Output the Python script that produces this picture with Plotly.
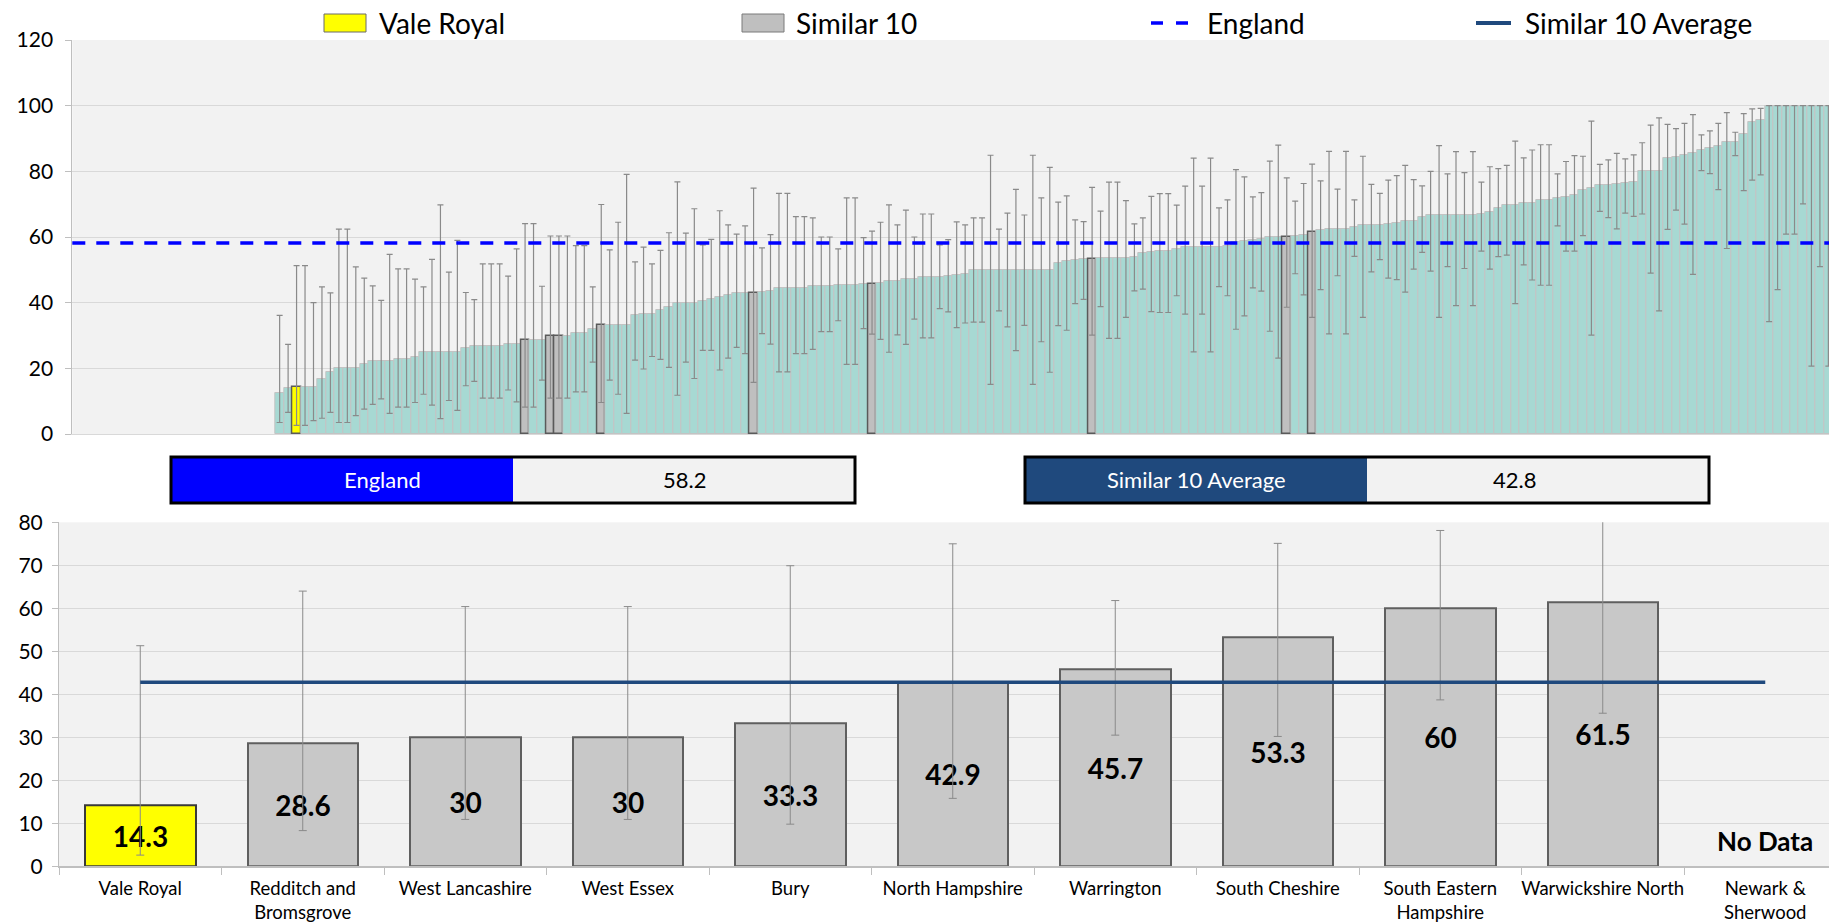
import plotly.graph_objects as go

W, H = 1829, 924

# ---------------- data: top chart (all areas, ranked ascending) ----------------
N_NO_DATA = 24  # areas without a value: empty slots on the left
TOP_VALUES = [
    12.5, 14.0, 14.3, 14.3, 14.3, 16.7, 18.8, 20.0, 20.0, 20.0,
    21.4, 22.2, 22.2, 22.2, 22.9, 22.9, 23.5, 25.0, 25.0, 25.0,
    25.0, 25.0, 26.3, 26.7, 26.7, 26.7, 26.7, 27.3, 27.3, 28.6,
    28.6, 28.6, 30.0, 30.0, 30.0, 30.8, 30.8, 32.1, 33.3, 33.3,
    33.3, 33.3, 36.2, 36.4, 36.6, 37.9, 38.8, 40.0, 40.0, 40.0,
    40.6, 41.2, 41.6, 42.2, 42.9, 42.9, 42.9, 43.2, 43.5, 44.4,
    44.4, 44.4, 44.4, 45.0, 45.2, 45.2, 45.3, 45.5, 45.5, 45.7,
    45.7, 46.1, 46.7, 46.7, 47.3, 47.3, 47.9, 47.9, 47.9, 48.1,
    48.5, 48.7, 50.0, 50.0, 50.0, 50.0, 50.0, 50.0, 50.0, 50.0,
    50.0, 50.0, 52.2, 52.7, 52.9, 53.2, 53.3, 53.5, 53.6, 53.6,
    53.6, 54.0, 55.2, 55.5, 55.8, 55.8, 56.3, 56.9, 56.9, 56.9,
    56.9, 57.1, 57.3, 58.4, 58.7, 59.2, 59.5, 60.0, 60.0, 60.0,
    60.3, 60.7, 61.5, 62.0, 62.5, 62.5, 62.5, 63.1, 63.6, 63.7,
    63.7, 63.9, 64.4, 64.9, 64.9, 66.1, 66.6, 66.7, 66.7, 66.7,
    66.7, 66.7, 67.1, 67.7, 68.9, 69.9, 69.9, 70.4, 70.5, 71.3,
    71.3, 71.9, 72.3, 72.7, 74.4, 75.0, 75.7, 75.9, 76.1, 76.5,
    76.9, 80.0, 80.0, 80.0, 84.2, 84.3, 85.0, 85.6, 86.6, 87.1,
    87.7, 88.9, 88.9, 91.5, 95.1, 95.6, 100, 100, 100, 100,
    100, 100, 100, 100,
]
TOP_UPPER = [
    36.1, 27.3, 51.3, 51.3, 40.0, 44.8, 43.0, 62.4, 62.4, 50.9,
    47.5, 45.1, 40.7, 54.7, 50.3, 50.3, 47.2, 44.8, 53.2, 69.8,
    49.3, 59.0, 43.1, 40.9, 51.8, 51.8, 51.8, 48.1, 56.4, 64.1,
    64.1, 45.0, 60.3, 60.3, 60.3, 57.4, 57.4, 44.8, 69.9, 56.1,
    64.5, 79.1, 52.4, 56.9, 51.8, 55.9, 61.3, 76.8, 61.2, 68.6,
    57.6, 59.3, 68.0, 63.7, 60.9, 63.4, 74.9, 56.7, 60.7, 73.3,
    73.3, 66.2, 66.2, 65.8, 60.0, 60.0, 56.4, 71.9, 71.9, 59.8,
    61.8, 64.5, 69.8, 63.7, 68.2, 60.0, 67.0, 67.0, 57.6, 59.2,
    64.6, 63.7, 65.8, 65.8, 84.9, 62.4, 67.3, 74.5, 66.7, 84.9,
    71.9, 81.2, 70.6, 72.5, 65.2, 64.7, 75.1, 67.9, 76.7, 76.7,
    71.1, 64.0, 65.8, 72.4, 73.2, 73.2, 69.7, 75.5, 84.0, 75.5,
    84.0, 68.9, 71.3, 80.5, 78.3, 72.2, 73.5, 83.1, 88.0, 78.0,
    70.9, 76.3, 82.2, 77.1, 86.1, 74.6, 86.1, 71.3, 84.6, 76.0,
    73.3, 77.3, 78.7, 81.8, 77.5, 75.6, 80.0, 87.8, 79.2, 86.0,
    79.6, 86.0, 76.7, 81.4, 80.8, 81.8, 89.2, 84.1, 86.5, 88.1,
    88.1, 79.2, 83.0, 84.8, 84.6, 95.3, 82.1, 83.5, 85.5, 83.8,
    85.0, 88.7, 94.1, 96.3, 94.3, 93.0, 94.6, 97.3, 91.1, 92.3,
    94.6, 97.9, 91.9, 97.6, 99.0, 99.2, 100, 100, 100, 100,
    100, 100, 100, 100,
]
TOP_LOWER = [
    3.5, 6.6, 2.6, 2.6, 4.1, 4.8, 6.6, 3.5, 3.5, 5.6,
    7.6, 9.0, 10.7, 6.3, 8.2, 8.2, 9.6, 12.1, 8.8, 4.7,
    10.2, 7.2, 14.7, 16.0, 10.9, 10.9, 10.9, 13.4, 9.8, 8.2,
    8.2, 16.4, 10.9, 10.9, 10.9, 12.8, 12.8, 21.9, 9.6, 16.4,
    12.1, 6.3, 22.5, 19.8, 23.6, 22.7, 20.3, 11.8, 21.9, 16.9,
    25.5, 25.5, 19.5, 23.1, 26.4, 24.5, 15.7, 30.6, 27.4, 18.9,
    18.9, 24.5, 24.5, 25.8, 31.2, 31.2, 34.5, 21.2, 21.2, 32.1,
    30.4, 28.8, 24.9, 30.2, 27.3, 35.0, 29.3, 29.3, 38.2, 37.2,
    32.4, 33.8, 34.1, 34.1, 15.1, 37.5, 32.6, 25.4, 33.1, 15.1,
    28.1, 18.8, 33.0, 31.6, 39.7, 41.0, 30.1, 38.8, 29.1, 29.1,
    35.5, 43.6, 44.1, 37.3, 37.0, 37.0, 42.1, 36.5, 25.0, 36.5,
    25.0, 44.9, 42.1, 31.9, 36.0, 44.5, 43.5, 31.3, 23.1, 38.6,
    48.8, 42.4, 35.5, 44.0, 30.5, 48.2, 30.5, 54.1, 35.5, 49.4,
    53.1, 47.5, 47.0, 43.2, 50.2, 55.3, 49.6, 35.5, 51.0, 39.1,
    50.4, 39.1, 55.7, 50.2, 54.0, 54.5, 39.7, 51.5, 46.9, 45.3,
    45.3, 63.4, 55.7, 55.7, 60.4, 30.1, 67.8, 65.9, 62.5, 67.3,
    66.3, 67.0, 49.0, 37.5, 62.3, 68.2, 63.9, 48.6, 80.2, 79.3,
    74.4, 56.5, 84.8, 74.1, 77.3, 78.9, 34.2, 44.0, 60.9, 60.9,
    70.1, 20.7, 51.0, 20.7,
]
VALE_RANK = 2
SIMILAR_RANKS = [29, 32, 33, 38, 56, 70, 96, 119, 122]
ENGLAND_VALUE = 58.2

# ---------------- data: bottom chart (Vale Royal and similar 10) ----------------
AREAS = ["Vale Royal", "Redditch and Bromsgrove", "West Lancashire", "West Essex",
         "Bury", "North Hampshire", "Warrington", "South Cheshire",
         "South Eastern Hampshire", "Warwickshire North", "Newark & Sherwood"]
AREA_TICKTEXT = ["Vale Royal", "Redditch and<br>Bromsgrove", "West Lancashire", "West Essex",
                 "Bury", "North Hampshire", "Warrington", "South Cheshire",
                 "South Eastern<br>Hampshire", "Warwickshire North", "Newark &<br>Sherwood"]
AREA_VALUES = [14.3, 28.6, 30, 30, 33.3, 42.9, 45.7, 53.3, 60, 61.5, None]
AREA_UPPER = [51.3, 64.0, 60.4, 60.4, 69.9, 75.0, 61.8, 75.1, 78.1, 82.2, None]
AREA_LOWER = [2.6, 8.3, 10.9, 10.9, 9.8, 15.8, 30.5, 30.2, 38.7, 35.6, None]
SIMILAR_AVG = 42.8

FONT = "Lato"
TEAL = "#a7d9d3"
GREY_BAR = "#bfbfbf"
YELLOW = "#ffff00"
BLUE = "#0000ff"
NAVY = "#1f497d"
PLOT_BG = "#f2f2f2"
GRID = "#d9d9d9"


def px(x):
    return x / W


def py(y):
    return 1 - y / H


fig = go.Figure()

# ---------- top chart ----------
n_top = len(TOP_VALUES)
top_x = [N_NO_DATA + i for i in range(n_top)]
fills, lines, lwidths = [], [], []
for i in range(n_top):
    if i == VALE_RANK:
        fills.append(YELLOW); lines.append("#5a5a5a"); lwidths.append(1.5)
    elif i in SIMILAR_RANKS:
        fills.append(GREY_BAR); lines.append("#5a5a5a"); lwidths.append(1.5)
    else:
        fills.append(TEAL); lines.append("#c3c3c3"); lwidths.append(1)

fig.add_trace(go.Bar(
    x=top_x, y=TOP_VALUES, xaxis="x", yaxis="y", showlegend=False,
    marker=dict(color=fills, line=dict(color=lines, width=lwidths)),
    error_y=dict(type="data", symmetric=False,
                 array=[u - v for u, v in zip(TOP_UPPER, TOP_VALUES)],
                 arrayminus=[v - l for v, l in zip(TOP_VALUES, TOP_LOWER)],
                 color="#8a8a8a", thickness=1.2, width=3),
))

# ---------- bottom chart ----------
bcolors = [YELLOW if a == "Vale Royal" else "#c8c8c8" for a in AREAS]
blines = ["#3a3a3a" if a == "Vale Royal" else "#5f5f5f" for a in AREAS]
fig.add_trace(go.Bar(
    x=AREAS, y=AREA_VALUES, xaxis="x2", yaxis="y2", showlegend=False, width=0.68,
    marker=dict(color=bcolors, line=dict(color=blines, width=2)),
    texttemplate="<b>%{y}</b>", textposition="inside", insidetextanchor="middle",
    textangle=0, constraintext="none",
    textfont=dict(family=FONT, size=28, color="black"),
    error_y=dict(type="data", symmetric=False,
                 array=[(u - v) if v is not None else None for u, v in zip(AREA_UPPER, AREA_VALUES)],
                 arrayminus=[(v - l) if v is not None else None for v, l in zip(AREA_VALUES, AREA_LOWER)],
                 color="#8a8a8a", thickness=1, width=4),
))
fig.add_trace(go.Scatter(
    x=[AREAS[0], AREAS[-1]], y=[SIMILAR_AVG, SIMILAR_AVG], xaxis="x2", yaxis="y2",
    mode="lines", line=dict(color=NAVY, width=3.5), showlegend=False, hoverinfo="skip",
))

shapes = [
    # England reference line on the top chart
    dict(type="line", xref="x domain", x0=0, x1=1, yref="y", y0=ENGLAND_VALUE, y1=ENGLAND_VALUE,
         line=dict(color=BLUE, width=3.5, dash="13px,11px"), layer="above"),
]

# ---------- legend (drawn) ----------
LEG_Y = 23
shapes += [
    dict(type="rect", xref="paper", yref="paper", x0=px(324), x1=px(366), y0=py(32), y1=py(14),
         fillcolor=YELLOW, line=dict(color="#6a6a6a", width=1)),
    dict(type="rect", xref="paper", yref="paper", x0=px(742), x1=px(784), y0=py(32), y1=py(14),
         fillcolor=GREY_BAR, line=dict(color="#7a7a7a", width=1)),
    dict(type="line", xref="paper", yref="paper", x0=px(1151), x1=px(1190), y0=py(LEG_Y), y1=py(LEG_Y),
         line=dict(color=BLUE, width=3.5, dash="12px,13px")),
    dict(type="line", xref="paper", yref="paper", x0=px(1476), x1=px(1511), y0=py(LEG_Y), y1=py(LEG_Y),
         line=dict(color=NAVY, width=4)),
]
annotations = []
for label, x0 in [("Vale Royal", 377), ("Similar 10", 794), ("England", 1205), ("Similar 10 Average", 1523)]:
    annotations.append(dict(text=label, xref="paper", yref="paper", x=px(x0), y=py(LEG_Y),
                            xanchor="left", yanchor="middle", showarrow=False,
                            font=dict(family=FONT, size=28, color="black")))

# ---------- value boxes ----------
def value_box(x0, xm, x1, y0, y1, color, label, value):
    shapes.extend([
        dict(type="rect", xref="paper", yref="paper", x0=px(x0), x1=px(xm), y0=py(y1), y1=py(y0),
             fillcolor=color, line=dict(width=0)),
        dict(type="rect", xref="paper", yref="paper", x0=px(xm), x1=px(x1), y0=py(y1), y1=py(y0),
             fillcolor=PLOT_BG, line=dict(width=0)),
        dict(type="rect", xref="paper", yref="paper", x0=px(x0), x1=px(x1), y0=py(y1), y1=py(y0),
             fillcolor="rgba(0,0,0,0)", line=dict(color="black", width=3)),
    ])
    annotations.append(dict(text=label, xref="paper", yref="paper", x=px((x0 + xm) / 2), y=py((y0 + y1) / 2),
                            showarrow=False, font=dict(family=FONT, size=22, color="white")))
    annotations.append(dict(text=str(value), xref="paper", yref="paper", x=px((xm + x1) / 2), y=py((y0 + y1) / 2),
                            showarrow=False, font=dict(family=FONT, size=22, color="black")))


value_box(171, 513, 855, 457, 503, BLUE, "England", ENGLAND_VALUE)
value_box(1025, 1367, 1709, 457, 503, NAVY, "Similar 10 Average", SIMILAR_AVG)

# "No Data" marker for the area without a value
for a, v in zip(AREAS, AREA_VALUES):
    if v is None:
        annotations.append(dict(text="<b>No Data</b>", x=a, y=5.9, xref="x2", yref="y2", showarrow=False,
                                font=dict(family=FONT, size=26, color="black")))

# ---------- axes ----------
TOP_SLOT = 8.463
top_range_end = -0.5 + (W - 72.3) / TOP_SLOT
BOT_SLOT = 162.5
bot_range_end = -0.5 + (W - 59) / BOT_SLOT

fig.update_layout(
    width=W, height=H, autosize=False,
    margin=dict(l=0, r=0, t=0, b=0, autoexpand=False),
    paper_bgcolor="white", plot_bgcolor=PLOT_BG,
    font=dict(family=FONT, color="black"),
    bargap=0,
    shapes=shapes, annotations=annotations,
    xaxis=dict(domain=[72.3 / W, 1], anchor="y", range=[-0.5, top_range_end], automargin=False,
               showticklabels=False, showgrid=False, zeroline=False,
               showline=True, linecolor=GRID, linewidth=1, ticks=""),
    yaxis=dict(domain=[py(434), py(40)], anchor="x", range=[0, 120], dtick=20, automargin=False,
               showgrid=True, gridcolor=GRID, gridwidth=1, zeroline=False,
               showline=True, linecolor="#bfbfbf", linewidth=1,
               ticks="outside", ticklen=6, tickcolor="#bfbfbf",
               tickfont=dict(family=FONT, size=21, color="black"), ticklabelstandoff=8),
    xaxis2=dict(domain=[59 / W, 1], anchor="y2", type="category", range=[-0.5, bot_range_end],
                categoryorder="array", categoryarray=AREAS, automargin=False,
                tickvals=AREAS, ticktext=AREA_TICKTEXT, tickson="boundaries", tickangle=0,
                showgrid=False, zeroline=False, showline=True, linecolor="#bfbfbf", linewidth=1.5,
                ticks="outside", ticklen=7, tickcolor="#bfbfbf",
                tickfont=dict(family=FONT, size=18.5, color="black"), ticklabelstandoff=5),
    yaxis2=dict(domain=[py(866.3), py(522.3)], anchor="x2", range=[0, 80], dtick=10, automargin=False,
                showgrid=True, gridcolor=GRID, gridwidth=1, zeroline=False,
                showline=True, linecolor="#bfbfbf", linewidth=1,
                ticks="outside", ticklen=6, tickcolor="#bfbfbf",
                tickfont=dict(family=FONT, size=21, color="black"), ticklabelstandoff=5),
)

fig.write_html("out.html", config={"displayModeBar": False},
               post_script="document.body.style.margin='0';document.body.style.overflow='hidden';")
